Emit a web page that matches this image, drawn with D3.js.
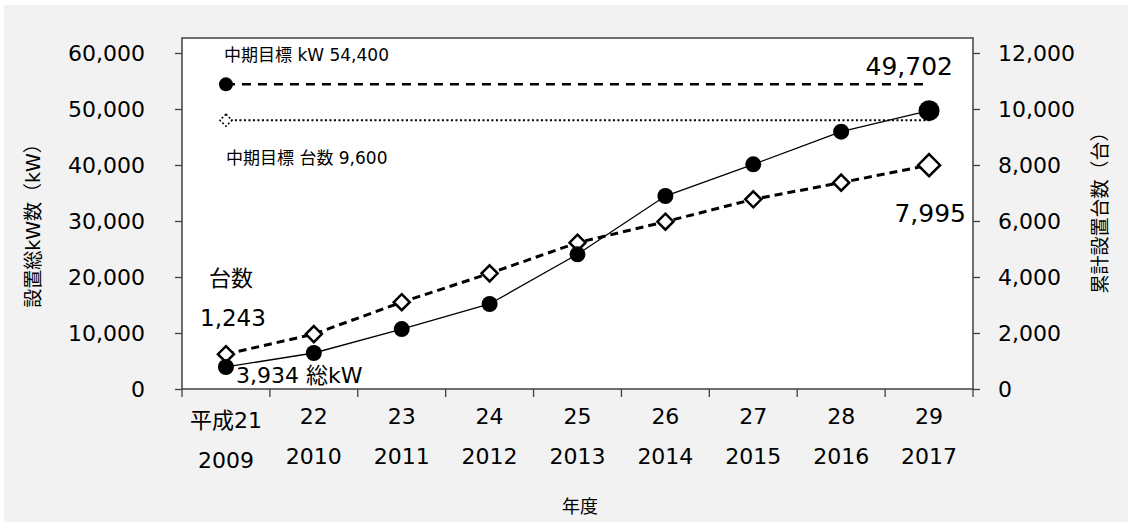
<!DOCTYPE html>
<html><head><meta charset="utf-8">
<script src="https://cdn.jsdelivr.net/npm/d3@7"></script>
<style>
body{margin:0;background:#fff;}
svg text{font-family:"DejaVu Sans","Noto Sans CJK JP",sans-serif;fill:#000;}
</style></head>
<body><svg id="c" width="1132" height="527"></svg>
<script>
const years = ["2009","2010","2011","2012","2013","2014","2015","2016","2017"];
const eraLabels = ["平成21","22","23","24","25","26","27","28","29"];
const kwValues = [3934, 6430, 10700, 15180, 24050, 34460, 40120, 45950, 49702];
const unitValues = [1243, 1960, 3100, 4130, 5225, 5975, 6775, 7370, 7995];
const targetKw = 54400;
const targetUnits = 9600;
const leftTicks = [0,10000,20000,30000,40000,50000,60000];
const rightTicks = [0,2000,4000,6000,8000,10000,12000];

const svg = d3.select("#c");
const L=182, R=973, T=38, B=389;
svg.append("rect").attr("x",4).attr("y",5).attr("width",1124).attr("height",517).attr("fill","#f2f2f2");
svg.append("rect").attr("x",L).attr("y",T).attr("width",R-L).attr("height",B-T).attr("fill","#fff");

const x = d3.scaleBand().domain(years).range([L,R]);
const cx = d => x(d)+x.bandwidth()/2;
const y = d3.scaleLinear().domain([0,60000]).range([B,53]);
const y2 = d3.scaleLinear().domain([0,12000]).range([B,53]);
const fmt = d3.format(",");

// axes
const ga = svg.append("g").attr("transform",`translate(${L},0)`)
  .call(d3.axisLeft(y).tickValues(leftTicks).tickSize(7).tickPadding(30).tickFormat(fmt));
const gb = svg.append("g").attr("transform",`translate(${R},0)`)
  .call(d3.axisRight(y2).tickValues(rightTicks).tickSize(7).tickPadding(18).tickFormat(fmt));
[ga,gb].forEach(g=>{
  g.select(".domain").remove();
  g.selectAll("line").attr("stroke","#404040").attr("stroke-width",1.3);
  g.selectAll("text").style("font-size","22px").attr("fill","#000");
});
// frame
svg.append("rect").attr("x",L).attr("y",T).attr("width",R-L).attr("height",B-T)
  .attr("fill","none").attr("stroke","#404040").attr("stroke-width",1.5);
// x ticks at band boundaries
const bounds = years.map(d=>x(d)).concat([x.range()[1]]);
svg.append("g").selectAll("line").data(bounds).join("line")
  .attr("x1",d=>d).attr("x2",d=>d).attr("y1",B).attr("y2",B+8)
  .attr("stroke","#404040").attr("stroke-width",1.3);
svg.append("g").selectAll("text").data(years).join("text")
  .attr("x",d=>cx(d)).attr("y",(d,i)=>i===0?428:424).attr("text-anchor","middle")
  .style("font-size","22px").text((d,i)=>eraLabels[i]);
svg.append("g").selectAll("text").data(years).join("text")
  .attr("x",d=>cx(d)).attr("y",(d,i)=>i===0?468:464).attr("text-anchor","middle")
  .style("font-size","22px").text(d=>d);

// axis titles
svg.append("text").attr("transform","translate(580,513)").attr("text-anchor","middle")
  .style("font-size","18px").text("年度");
svg.append("text").attr("transform","translate(40,221) rotate(-90)").attr("text-anchor","middle")
  .style("font-size","19px").text("設置総kW数（kW）");
svg.append("text").attr("transform","translate(1107,208) rotate(-90)").attr("text-anchor","middle")
  .style("font-size","19px").text("累計設置台数（台）");

// target lines
const x0 = cx(years[0]), x1 = cx(years[years.length-1]);
svg.append("line").attr("x1",x0).attr("x2",x1).attr("y1",y(targetKw)).attr("y2",y(targetKw))
  .attr("stroke","#000").attr("stroke-width",2.5).attr("stroke-dasharray","9,7");
svg.append("line").attr("x1",x0).attr("x2",x1).attr("y1",y2(targetUnits)).attr("y2",y2(targetUnits))
  .attr("stroke","#000").attr("stroke-width",2).attr("stroke-dasharray","2,2.5");
svg.append("circle").attr("cx",x0).attr("cy",y(targetKw)).attr("r",7).attr("fill","#000");
const dia = (s)=>`M0,${-s}L${s},0L0,${s}L${-s},0Z`;
svg.append("path").attr("d",dia(6)).attr("transform",`translate(${x0},${y2(targetUnits)})`)
  .attr("fill","#fff").attr("stroke","#000").attr("stroke-width",1.5).attr("stroke-dasharray","2,2");

// count series (dashed, diamonds)
svg.append("path").datum(unitValues)
  .attr("d",d3.line().x((d,i)=>cx(years[i])).y(d=>y2(d)))
  .attr("fill","none").attr("stroke","#000").attr("stroke-width",3).attr("stroke-dasharray","8,5");
// kW series (solid, circles)
svg.append("path").datum(kwValues)
  .attr("d",d3.line().x((d,i)=>cx(years[i])).y(d=>y(d)))
  .attr("fill","none").attr("stroke","#000").attr("stroke-width",1.3);
svg.append("g").selectAll("path").data(unitValues).join("path")
  .attr("d",(d,i)=>dia(i===unitValues.length-1?11:8))
  .attr("transform",(d,i)=>`translate(${cx(years[i])},${y2(d)})`)
  .attr("fill","#fff").attr("stroke","#000").attr("stroke-width",2.5);
svg.append("g").selectAll("circle").data(kwValues).join("circle")
  .attr("cx",(d,i)=>cx(years[i])).attr("cy",d=>y(d))
  .attr("r",(d,i)=>i===kwValues.length-1?10.5:8).attr("fill","#000");

// annotations
const ann = (t,xx,yy,fs,anchor)=>svg.append("text").attr("x",xx).attr("y",yy)
  .attr("text-anchor",anchor||"start").style("font-size",fs+"px").text(t);
ann("中期目標 kW "+fmt(targetKw),224,61,17);
ann("中期目標 台数 "+fmt(targetUnits),226,164,17);
ann(fmt(kwValues[8]),953,75,25,"end");
ann(fmt(unitValues[8]),966,222,25,"end");
ann("台数",209,286,22);
ann(fmt(unitValues[0]),200,326,23);
ann(fmt(kwValues[0])+" 総kW",236,383,22);
</script></body></html>
